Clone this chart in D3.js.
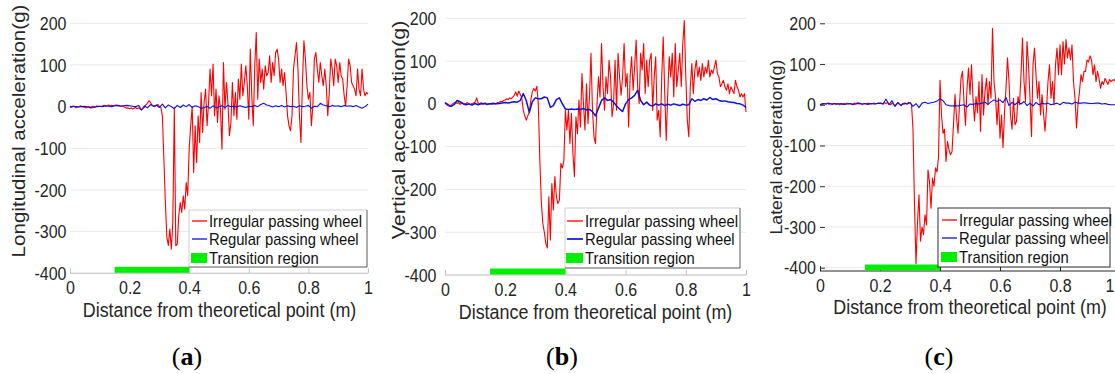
<!DOCTYPE html>
<html>
<head>
<meta charset="utf-8">
<script src="https://cdn.jsdelivr.net/npm/d3@7"></script>
<style>
  body { margin: 0; background: #fff; }
  svg { display: block; font-family: "Liberation Sans", Arial, sans-serif; }
</style>
</head>
<body>
<svg id="fig" width="1115" height="374"></svg>
<script>
// ---- sampling grid (m) ----
const irregularStep = 0.005;   // irregular-wheel traces: one sample every 5 mm
const regularStep = 0.01;      // regular-wheel traces: one sample every 10 mm

// ---- axes ----
const xTicks = [0, 0.2, 0.4, 0.6, 0.8, 1];
const yTicks = [200, 100, 0, -100, -200, -300, -400];
const transitionRegion = [0.15, 0.4];
const seriesNames = ["Irregular passing wheel", "Regular passing wheel", "Transition region"];
const panelLetters = ["a", "b", "c"];
const yTitles = ["Longitudinal acceleration(g)", "Vertical acceleration(g)", "Lateral acceleration(g)"];
const xTitle = "Distance from theoretical point (m)";

// ---- longitudinal acceleration (g) ----
const longIrregular = [
  0, -2, 1, 0, -3, -1, 0, 2, 0, -1,
  -2, -3, -1, 0, -2, 1, 0, -1, 2, 0,
  1, 0, 2, 3, 1, 2, 4, 2, 3, 2,
  3, 4, 2, 3, 1, 2, 0, -2, -4, -3,
  -5, -3, -6, -4, -2, -5, -3, -6, -8, -4,
  -2, 5, 8, 14, 10, 4, 2, 0, 3, 5,
  0, -2, -22, -125, -230, -313, -333, -294, -342, -278,
  -2, -334, -330, -262, -230, -254, -214, -246, -182, -214,
  -100, -46, 0, -158, -46, -134, -22, -86, 34, -62,
  10, 42, -46, 10, 90, 26, 102, -22, 42, -38,
  26, -6, -102, 106, -6, 58, 10, -70, -38, 58,
  -22, 34, -30, 66, 18, 102, 26, 58, 98, 50,
  -30, 138, 26, -46, 98, 178, 18, 114, 58, 90,
  42, 98, 74, 82, 122, 58, 106, 74, 130, 138,
  114, 58, 90, 50, 82, 34, -22, -46, -58, -22,
  90, 122, 154, 90, -22, -86, 58, 158, 114, 50,
  18, 34, -46, 2, 114, 130, 90, 58, 106, 74,
  50, 90, 50, -22, 34, 114, 90, 50, 114, 98,
  58, 106, 74, 66, 26, 2, 50, 114, 98, 58,
  50, 42, 26, 90, 42, 26, 90, 42, 26, 34,
  30
];
const longRegular = [
  0, 1, 0, -1, 0, 1, -1, -3, -2, 0,
  1, 0, 2, 1, 0, 2, 3, 1, 2, 3,
  2, 1, 0, 3, -8, 2, -3, 5, 1, 4,
  -2, 6, -3, 4, 0, -5, 3, -2, 4, 0,
  5, -2, 2, 0, -4, -3, 1, -4, 2, -3,
  0, 2, -2, 3, 0, 1, -1, 2, 0, -2,
  1, 0, 3, 0, 5, 8, 4, 2, -1, 2,
  0, 3, -1, 2, 0, 1, -2, 2, 0, 1,
  3, -4, 1, 0, 8, 4, 2, 0, 3, 1,
  2, 0, 3, 1, 2, 0, 3, -1, -4, 0,
  6
];

// ---- vertical acceleration (g) ----
const vertIrregular = [
  2, -2, -4, -6, -3, 0, 2, 4, 1, 3,
  -1, 2, 0, -2, 1, 3, 0, -2, 1, 2,
  4, 14, 2, 0, 3, -1, 1, 2, -2, 0,
  1, -1, 2, 0, 1, 3, 4, 6, 5, 8,
  9, 12, 10, 14, 12, 16, 20, 28, 18, 30,
  22, 14, -15, -28, -38, -28, -20, 8, 28, 36,
  30, 41, 0, -130, -230, -279, -300, -326, -337, -217,
  -318, -186, -248, -170, -217, -233, -225, -139, -150, -132,
  -15, -61, -15, -93, -22, -116, -170, -30, -70, 9,
  -54, 71, 0, -61, 47, -46, 16, 118, -15, -77,
  -93, 0, 63, 16, 141, 40, -15, 63, 24, 102,
  63, -30, 0, 102, -15, 118, 63, 20, 63, 141,
  40, 71, -54, 63, 110, 32, 86, 149, 40, 1,
  118, 79, 141, 24, 102, 40, 102, 118, -15, 63,
  110, -38, -15, -77, 63, 156, 24, -85, 24, 110,
  63, 118, 16, 141, 40, 79, 118, 40, 141, 195,
  63, -38, -77, 40, 94, 24, 79, 102, 63, 86,
  55, 94, 63, 86, 71, 102, 63, 79, 71, 86,
  102, 71, 63, 40, 47, 55, 40, 32, 47, 24,
  40, 32, 24, 55, 40, 32, 16, 24, 16, 24,
  -19
];
const vertRegular = [
  3, -2, -6, -2, 8, 5, 1, -2, 0, -3,
  1, -2, 0, 1, -1, 0, 1, 0, 1, 2,
  3, 2, 4, 5, 4, 8, 24, 8, -20, 5,
  14, 12, 12, 16, 14, -8, -4, 10, 14, 0,
  -12, -13, -12, -13, -12, -13, -11, -14, -13, -18,
  -28, -10, 8, 14, 8, 10, 4, -5, -12, -18,
  0, 10, 14, 20, 32, 8, -2, 4, -3, -5,
  0, -3, 0, -4, -1, -3, 0, -2, -4, -1,
  -3, -2, 12, 6, 10, 8, 12, 9, 15, 10,
  12, 8, 6, 7, 5, 4, 3, 1, 0, -3,
  -8
];

// ---- lateral acceleration (g) ----
const latIrregular = [
  0, 2, 1, 3, 2, 4, 1, 3, 2, 3,
  2, 1, 3, 0, 2, 1, 3, 2, 4, 2,
  3, 1, 2, 4, 3, 5, 2, 3, 1, 2,
  3, 2, 4, 3, 2, 3, 4, 2, 3, 4,
  3, 4, 2, 5, 3, 6, 2, 0, 4, 1,
  -3, 2, 4, 1, -2, 3, 1, 4, 2, 6,
  5, 1, -60, -245, -390, -290, -221, -335, -300, -319,
  -270, -295, -160, -190, -254, -180, -200, -155, -165, -130,
  60, -25, -70, -60, -139, -90, -110, -123, -115, -50,
  25, -30, -70, 0, 65, 82, 8, -50, 40, 90,
  25, 98, 16, -40, 20, -20, 57, -65, 74, -25,
  33, 65, 0, 57, 16, 188, 57, 20, -49, 16,
  -82, -25, -105, -20, 40, 115, 57, -25, -60, 16,
  -49, -41, 20, 0, 74, 164, 57, 8, 155, 98,
  16, -78, 98, 139, 74, 16, 57, -25, 25, -20,
  -65, -10, 57, 98, 16, 57, 0, 98, 139, 74,
  147, 74, 155, 100, 160, 115, 140, 110, 147, 57,
  16, -57, 0, 33, 74, 57, 82, 82, 110, 105,
  120, 110, 74, 98, 57, 82, 65, 40, 57, 50,
  65, 57, 50, 62, 57, 60, 62, 57, 55, 58,
  55
];
const latRegular = [
  0, 3, 2, 4, 1, 3, 2, 3, 1, 2,
  3, 1, 2, 4, 2, 3, 1, 3, 2, 3,
  4, 2, 14, 0, 10, -4, 6, -2, 4, 2,
  5, -4, 3, -7, 4, 6, 3, 5, 6, 9,
  15, 10, 0, -2, -3, -2, -3, -1, 0, -6,
  2, 1, 3, 2, 4, 6, 1, 7, 12, 8,
  12, 5, 18, -2, 6, 0, 7, 2, 8, -2,
  4, -3, 6, 0, 4, 2, 4, 0, 2, 4,
  0, 6, 4, 4, 2, 6, 4, 4, 5, 4,
  3, 3, 4, 4, 2, 3, 1, 0, 0, 0,
  0
];

// ---- panel layout ----
const panels = [
  { irr: longIrregular, reg: longRegular, x0: 70, x1: 368, yTop: 23.3, yBot: 273.3, axisY: 273.3,
    yLabRight: 66.5, yTitlePos: [19, 131], yTitleSize: 18.4, xTitlePos: [219.5, 310], xTickY: 288,
    legend: { x: 189, y: 210, w: 178, h: 57, rows: [221, 239, 258], sym: [192, 207], tx: 209 },
    sub: [187, 356], frame: "soft", yTickLen: 0, regWidth: 1.1 },
  { irr: vertIrregular, reg: vertRegular, x0: 445, x1: 746, yTop: 18.3, yBot: 275, axisY: 275,
    yLabRight: 436.5, yTitlePos: [398, 130], yTitleSize: 19.2, xTitlePos: [595.5, 311.5], xTickY: 290,
    legend: { x: 565, y: 208, w: 175, h: 60, rows: [221, 239, 258], sym: [567, 583], tx: 585 },
    sub: [562, 356], frame: "soft", yTickLen: 0, regWidth: 1.5 },
  { irr: latIrregular, reg: latRegular, x0: 820, x1: 1120, yTop: 23.3, yBot: 267.7, axisY: 271,
    yLabRight: 816, yTitlePos: [776, 147], yTitleSize: 15.7, xTitlePos: [970, 306.5], xTickY: 286,
    legend: { x: 938, y: 208, w: 172, h: 59, rows: [220, 238, 257], sym: [942, 957], tx: 959 },
    sub: [939, 356], frame: "dark", yTickLen: 5, regWidth: 1.1 }
];

const RED = "#ff0000", BLUE = "#1212d2", GREEN = "#00ee00";
const STRETCH = 1.12;   // glyphs are slightly taller than wide in this figure
const WIDTH = 1115;
const svg = d3.select("#fig");

panels.forEach((p, k) => {
  const g = svg.append("g");
  const x = d3.scaleLinear().domain([0, 1]).range([p.x0, p.x1]);
  const y = d3.scaleLinear().domain([-400, 200]).range([p.yBot, p.yTop]);

  // horizontal grid
  g.append("g").selectAll("line").data(yTicks).join("line")
    .attr("x1", p.x0).attr("x2", p.x1)
    .attr("y1", d => y(d)).attr("y2", d => y(d))
    .attr("stroke", "#e9e9e9").attr("stroke-width", 1);

  // traces
  const lineIrr = d3.line().x((d, i) => x(i * irregularStep)).y(d => y(d));
  const lineReg = d3.line().x((d, i) => x(i * regularStep)).y(d => y(d));
  g.append("path").datum(p.irr).attr("d", lineIrr)
    .attr("fill", "none").attr("stroke", RED).attr("stroke-width", 1.1).attr("stroke-linejoin", "round");
  g.append("path").datum(p.reg).attr("d", lineReg)
    .attr("fill", "none").attr("stroke", BLUE).attr("stroke-width", p.regWidth).attr("stroke-linejoin", "round");

  // x axis
  const axisColor = p.frame === "dark" ? "#262626" : "#c4c4c4";
  const xAxis = d3.axisBottom(x).tickValues(xTicks).tickSize(-5).tickPadding(0)
    .tickFormat(d => String(d));
  const gx = g.append("g").attr("transform", `translate(0,${p.axisY})`).call(xAxis);
  gx.select(".domain").attr("stroke", axisColor).attr("d", `M${p.x0},0H${p.x1}`);
  gx.selectAll(".tick line").attr("stroke", axisColor);
  gx.selectAll(".tick text")
    .attr("fill", "#262626").attr("font-size", 16).attr("font-family", "Liberation Sans, Arial, sans-serif")
    .attr("y", (p.xTickY - p.axisY) / STRETCH).attr("dy", "0.34em")
    .attr("transform", `scale(1,${STRETCH})`);
  // a tick label that would fall past the right edge is tucked inside it
  gx.selectAll(".tick text").filter(d => x(d) + 4 > WIDTH)
    .attr("text-anchor", "end").attr("x", d => WIDTH - 1 - x(d));

  // transition region bar
  g.append("rect")
    .attr("x", x(transitionRegion[0])).attr("width", x(transitionRegion[1]) - x(transitionRegion[0]))
    .attr("y", p.axisY - 6.5).attr("height", 6).attr("fill", GREEN);

  // y axis labels
  const yAxis = d3.axisLeft(y).tickValues(yTicks).tickSize(-p.yTickLen)
    .tickPadding(p.x0 - p.yLabRight).tickFormat(d => String(d));
  const gy = g.append("g").attr("transform", `translate(${p.x0},0)`).call(yAxis);
  gy.select(".domain").remove();
  gy.selectAll(".tick line").attr("stroke", "#333").attr("stroke-width", 1);
  gy.selectAll(".tick text")
    .attr("fill", "#262626").attr("font-size", 16).attr("font-family", "Liberation Sans, Arial, sans-serif")
    .attr("x", -(p.x0 - p.yLabRight)).attr("dy", "0.34em")
    .attr("transform", `scale(1,${STRETCH})`)
    .attr("y", 0);

  // legend
  const L = p.legend;
  const lg = g.append("g");
  lg.append("rect").attr("x", L.x).attr("y", L.y).attr("width", L.w).attr("height", L.h)
    .attr("fill", "#fff").attr("stroke", p.frame === "dark" ? "#303030" : "none");
  if (p.frame !== "dark") {
    lg.append("path").attr("d", `M${L.x},${L.y + L.h}V${L.y}H${L.x + L.w}`)
      .attr("fill", "none").attr("stroke", "#cfcfcf");
    lg.append("path").attr("d", `M${L.x + L.w},${L.y}V${L.y + L.h}H${L.x}`)
      .attr("fill", "none").attr("stroke", "#5a5a5a");
  }
  lg.append("line").attr("x1", L.sym[0]).attr("x2", L.sym[1]).attr("y1", L.rows[0]).attr("y2", L.rows[0])
    .attr("stroke", RED).attr("stroke-width", 1.3);
  lg.append("line").attr("x1", L.sym[0]).attr("x2", L.sym[1]).attr("y1", L.rows[1]).attr("y2", L.rows[1])
    .attr("stroke", BLUE).attr("stroke-width", p.regWidth + 0.2);
  lg.append("rect").attr("x", L.sym[0] - 1).attr("width", L.sym[1] - L.sym[0] + 1)
    .attr("y", L.rows[2] - 5).attr("height", 10).attr("fill", GREEN);
  seriesNames.forEach((name, i) => {
    lg.append("text").text(name)
      .attr("transform", `translate(${L.tx},${L.rows[i]}) scale(1,${STRETCH})`)
      .attr("dy", "0.35em").attr("font-size", 14.8).attr("fill", "#111");
  });

  // axis titles
  g.append("text").text(xTitle)
    .attr("transform", `translate(${p.xTitlePos[0]},${p.xTitlePos[1]}) scale(1,${STRETCH})`)
    .attr("text-anchor", "middle").attr("dy", "0.35em").attr("font-size", 17.9).attr("fill", "#262626");
  g.append("text").text(yTitles[k])
    .attr("transform", `translate(${p.yTitlePos[0]},${p.yTitlePos[1]}) scale(1,${STRETCH}) rotate(-90)`)
    .attr("text-anchor", "middle").attr("dy", "0.35em").attr("font-size", p.yTitleSize).attr("fill", "#262626");

  // panel letter
  const sub = g.append("text")
    .attr("x", p.sub[0]).attr("y", p.sub[1]).attr("dy", "0.35em").attr("text-anchor", "middle")
    .attr("font-family", "Liberation Serif, 'DejaVu Serif', serif").attr("font-size", 26).attr("fill", "#000");
  sub.append("tspan").text("(");
  sub.append("tspan").text(panelLetters[k]).attr("font-weight", "bold");
  sub.append("tspan").text(")");
});
</script>
</body>
</html>
